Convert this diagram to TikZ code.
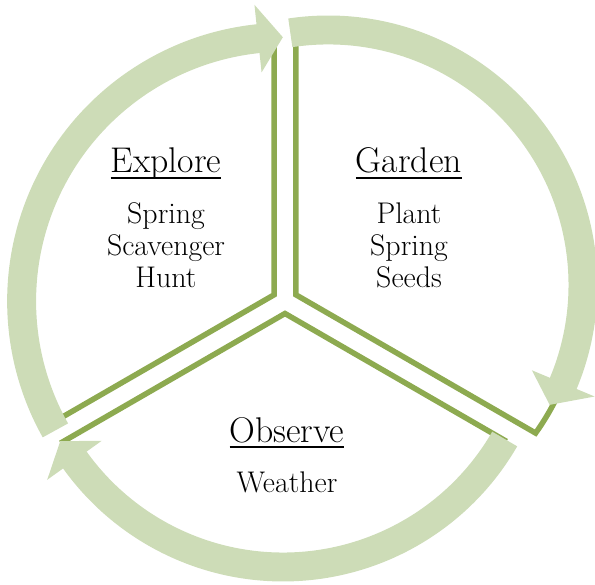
\documentclass[tikz,border=0pt]{standalone}
\usepackage{fontspec}
\usetikzlibrary{calc}
\usetikzlibrary{positioning}
\definecolor{leafdark}{RGB}{141,170,80}
\definecolor{leaflight}{RGB}{205,220,183}
\newcommand{\uln}[1]{\vtop{\hbox{\raisebox{0pt}[\height][0pt]{#1}}\kern3.6pt\hrule height1.3pt}}
\tikzset{
  slice/.style={draw=leafdark, line width=4.7pt},
  ring/.style={draw=leaflight, line width=24.7pt},
  ringhead/.style={fill=leaflight},
  heading/.style={inner sep=0pt, font=\fontsize{30.5}{35}\selectfont},
  bodytext/.style={inner sep=0pt, align=center, font=\fontsize{25.5}{27.3}\selectfont}
}

\begin{document}
\begin{tikzpicture}[x=0.03cm,y=0.03cm,node distance=19.8pt]
  \useasboundingbox (0,0) rectangle (595,584);
  % pie centre, the three slice tips and the arrow centres
  \coordinate (O) at (285,283);
  \coordinate (PE) at ($(O)+(150:12.5)$);
  \coordinate (PG) at ($(O)+(30:12.5)$);
  \coordinate (PO) at ($(O)+(270:12.5)$);
  \coordinate (CE) at (285.6,282.8);
  \coordinate (CG) at (328,299);
  \coordinate (CO) at (283,273);

  % slices
  \draw[slice] (PE) -- ($(CE)+(92.47:264)$) arc[start angle=92.47, end angle=207.55, radius=264] -- cycle;
  \draw[slice] (PG) -- ($(CG)+(97.25:255)$) arc[start angle=97.25, end angle=-35.5, radius=255] -- cycle;
  \draw[slice] (PO) -- ($(CO)+(-30.26:256)$) arc[start angle=-30.26, end angle=-149.29, radius=256] -- cycle;

  % arrows round the pie
  \draw[ring] ($(CE)+(209.3:264)$) arc[start angle=209.3, end angle=95.5, radius=264];
  \fill[ringhead] ($(CE)+(96:298)$) -- ($(CE)+(90.6:264)$) -- ($(CE)+(96:230)$) -- cycle;
  \draw[ring] ($(CG)+(98.5:255)$) arc[start angle=98.5, end angle=-23.2, radius=255];
  \fill[ringhead] ($(CG)+(-22.7:289)$) -- ($(CG)+(-28.4:252)$) -- ($(CG)+(-22.7:221)$) -- cycle;
  \draw[ring] ($(CO)+(-30:256)$) arc[start angle=-30, end angle=-145, radius=256];
  \fill[ringhead] ($(CO)+(-144.4:290)$) -- ($(CO)+(-149.7:258)$) -- ($(CO)+(-144.4:223)$) -- cycle;

  % texts
  \node[heading, anchor=base] (explore) at (166,411) {\uln{Explore}};
  \node[bodytext, below=of explore] (exploreTxt) {Spring\\Scavenger\\Hunt};
  \node[heading, anchor=base] (garden) at (409,411) {\uln{Garden}};
  \node[bodytext, below=of garden] (gardenTxt) {Plant\\Spring\\Seeds};
  \node[heading, anchor=base] (observe) at (287,142) {\uln{Observe}};
  \node[bodytext, below=of observe] (observeTxt) {Weather};
\end{tikzpicture}
\end{document}
